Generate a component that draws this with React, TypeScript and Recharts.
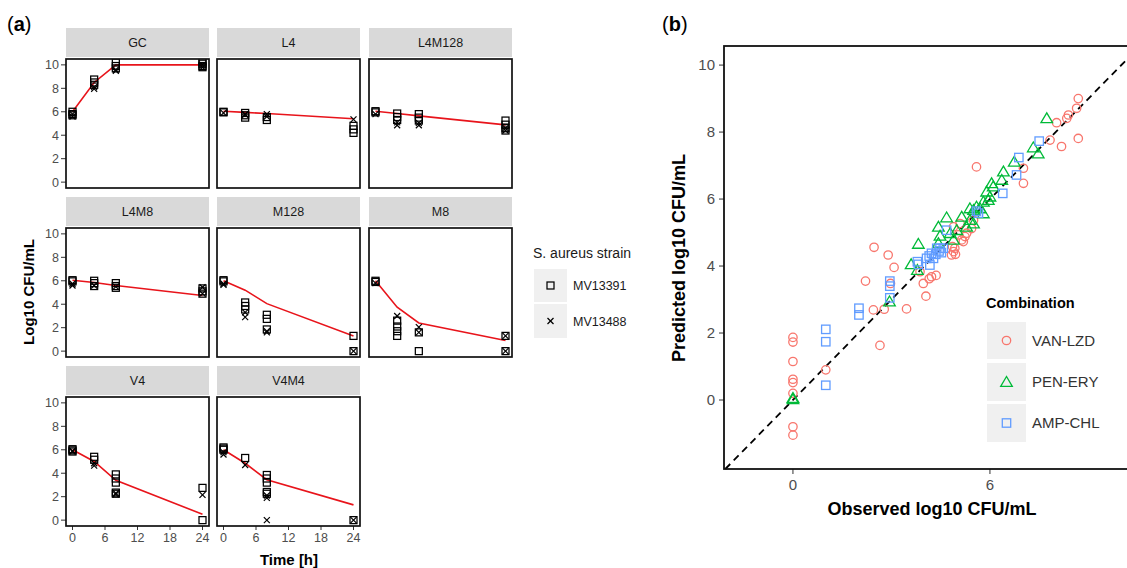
import React from 'react';
import { ComposedChart, Scatter, Line, XAxis, YAxis, ReferenceLine } from 'recharts';

const FONT = '"Liberation Sans", Arial, Helvetica, sans-serif';

// ---------- Panel (a) data ----------
const times = [0, 4, 8, 24];
const timeTicks = [0, 6, 12, 18, 24];
const logTicksA = [0, 2, 4, 6, 8, 10];
const facetNames = ['GC', 'L4', 'L4M128', 'L4M8', 'M128', 'M8', 'V4', 'V4M4'];

const gcSquares = [[0, 6.0], [0, 5.8], [0, 5.7], [4, 8.75], [4, 8.5], [4, 8.3], [8, 10.2], [8, 9.9], [8, 9.7], [24, 10.3], [24, 10.1], [24, 9.9], [24, 9.8]];
const gcCrosses = [[0, 5.8], [0, 5.6], [4, 8.1], [4, 7.95], [8, 9.6], [8, 9.5], [24, 10.0], [24, 9.8]];
const gcModel = [6.0, 8.5, 10.0, 10.0];

const l4Squares = [[0, 6.0], [0, 5.95], [4, 5.9], [4, 5.7], [4, 5.5], [8, 5.55], [8, 5.3], [24, 4.8], [24, 4.5], [24, 4.2]];
const l4Crosses = [[0, 5.9], [4, 5.8], [4, 5.75], [8, 5.8], [8, 5.6], [24, 5.35]];
const l4Model = [6.05, 5.95, 5.85, 5.4];

const l4m128Squares = [[0, 6.05], [0, 5.95], [4, 5.85], [4, 5.55], [4, 5.3], [8, 5.8], [8, 5.5], [8, 5.25], [24, 5.25], [24, 4.9], [24, 4.6], [24, 4.4]];
const l4m128Crosses = [[0, 5.8], [4, 5.1], [4, 4.85], [8, 5.05], [8, 4.85], [24, 4.6], [24, 4.4]];
const l4m128Model = [6.05, 5.85, 5.65, 4.88];

const l4m8Squares = [[0, 6.05], [0, 5.95], [4, 6.0], [4, 5.8], [4, 5.55], [8, 5.8], [8, 5.55], [8, 5.4], [24, 5.35], [24, 5.1], [24, 4.9]];
const l4m8Crosses = [[0, 5.75], [0, 5.6], [4, 5.6], [8, 5.5], [24, 5.45], [24, 4.9]];
const l4m8Model = [6.05, 5.85, 5.6, 4.75];

const m128Squares = [[0, 6.05], [0, 5.95], [4, 4.15], [4, 3.85], [4, 3.55], [8, 3.1], [8, 2.75], [8, 1.85], [24, 1.3], [24, 0]];
const m128Crosses = [[0, 5.75], [0, 5.65], [4, 3.3], [4, 2.9], [8, 1.7], [8, 1.6], [24, 0]];
const m128Model = [6.0, 5.2, 4.05, 1.3];

const m8Squares = [[0, 6.0], [0, 5.9], [4, 2.6], [4, 2.1], [4, 1.7], [4, 1.3], [8, 1.6], [8, 0], [24, 1.3], [24, 0]];
const m8Crosses = [[0, 5.8], [4, 3.0], [8, 2.05], [8, 1.6], [24, 1.3], [24, 0]];
const m8Model = [6.0, 3.75, 2.4, 0.9];

const v4Squares = [[0, 6.05], [0, 5.95], [0, 5.85], [4, 5.4], [4, 5.15], [8, 3.9], [8, 3.55], [8, 3.2], [8, 2.35], [8, 2.25], [24, 2.75], [24, 0]];
const v4Crosses = [[0, 5.9], [0, 5.85], [4, 4.85], [4, 4.65], [8, 2.3], [8, 2.2], [24, 2.15]];
const v4Model = [6.0, 5.0, 3.4, 0.5];

const v4m4Squares = [[0, 6.2], [0, 6.1], [0, 6.0], [4, 5.3], [8, 3.85], [8, 3.55], [8, 3.2], [8, 2.4], [8, 2.25], [24, 0]];
const v4m4Crosses = [[0, 5.8], [0, 5.6], [4, 4.7], [8, 2.1], [8, 1.9], [8, 0], [24, 0]];
const v4m4Model = [6.0, 4.85, 3.45, 1.3];

const strainNames = ['MV13391', 'MV13488'];

// ---------- Panel (b) data ----------
const obsTicks = [0, 6];
const predTicks = [0, 2, 4, 6, 8, 10];
const comboNames = ['VAN-LZD', 'PEN-ERY', 'AMP-CHL'];

const vanLzd = [
  [0, 1.87], [0, 1.73], [0, 1.15], [0, 0.62], [0, 0.52], [0, 0.2], [0, -0.8], [0, -1.05],
  [1.0, 0.9],
  [2.21, 3.55], [2.45, 2.69], [2.78, 2.71], [3.46, 2.72], [2.65, 1.63], [2.47, 4.56], [2.9, 4.33], [3.08, 3.96], [2.97, 3.48],
  [3.97, 3.48], [4.05, 3.1], [3.87, 3.83], [4.22, 3.68], [4.36, 3.72], [4.15, 3.62],
  [4.83, 4.33], [4.89, 4.43], [4.86, 4.58], [5.19, 4.73], [5.24, 4.88], [5.44, 5.12], [4.89, 5.17], [5.09, 5.27], [5.5, 5.37],
  [5.29, 4.98], [5.04, 4.93], [5.14, 4.78], [4.93, 4.53], [4.95, 4.35],
  [5.59, 6.96], [7.02, 6.92], [7.02, 6.47],
  [7.83, 7.76], [8.03, 8.28], [8.18, 7.57], [8.39, 8.51], [8.34, 8.41], [8.64, 8.71], [8.69, 9.0], [8.69, 7.81],
];

const penEry = [
  [0, 0.02], [0, 0.06], [2.94, 2.94], [3.6, 4.05], [3.82, 4.66], [3.79, 3.88],
  [4.43, 4.68], [4.48, 4.9], [4.43, 5.17], [4.68, 5.45], [4.79, 4.98], [4.89, 4.78], [4.99, 5.07], [5.14, 5.47],
  [5.29, 5.17], [5.39, 5.37], [5.5, 5.27], [5.39, 5.72], [5.5, 5.67], [5.59, 5.77], [5.7, 5.72], [5.8, 5.57],
  [5.8, 5.92], [5.9, 6.22], [5.95, 5.97], [6.0, 6.07], [6.1, 6.37], [6.05, 6.47], [6.36, 6.57], [6.41, 6.82],
  [6.74, 7.11], [7.32, 7.54], [7.47, 7.36], [7.73, 8.41],
];

const ampChl = [
  [1.0, 2.11], [1.0, 1.74], [1.0, 0.44], [2.01, 2.74], [2.01, 2.54], [2.95, 3.55], [2.95, 3.4], [2.95, 3.05],
  [3.79, 4.13], [3.82, 4.05], [4.07, 4.23], [4.17, 4.03], [4.22, 4.38], [4.28, 4.23], [4.38, 4.53], [4.58, 4.53],
  [4.45, 4.45], [4.35, 4.35], [4.15, 4.3], [4.48, 4.53], [4.68, 5.07], [4.52, 4.4],
  [5.59, 5.64], [5.65, 5.58], [6.39, 6.17], [6.81, 6.72], [6.88, 7.24], [7.5, 7.73],
];

// ---------- helpers ----------
const toPts = (arr: number[][]) => arr.map(([t, v]) => ({ t, v }));
const toModel = (vals: number[]) => times.map((t, i) => ({ t, v: vals[i] }));
const toXY = (arr: number[][]) => arr.map(([x, y]) => ({ x, y }));

const facets = [
  { sq: gcSquares, cr: gcCrosses, model: gcModel },
  { sq: l4Squares, cr: l4Crosses, model: l4Model },
  { sq: l4m128Squares, cr: l4m128Crosses, model: l4m128Model },
  { sq: l4m8Squares, cr: l4m8Crosses, model: l4m8Model },
  { sq: m128Squares, cr: m128Crosses, model: m128Model },
  { sq: m8Squares, cr: m8Crosses, model: m8Model },
  { sq: v4Squares, cr: v4Crosses, model: v4Model },
  { sq: v4m4Squares, cr: v4m4Crosses, model: v4m4Model },
].map((f, i) => ({
  name: facetNames[i],
  col: i % 3,
  row: Math.floor(i / 3),
  sq: toPts(f.sq),
  cr: toPts(f.cr),
  model: toModel(f.model),
}));

// layout
const COL_LEFT = [66, 217, 369];
const ROW_TOP = [59, 228, 397];
const PW = 143;
const PH = 129;
const YW = 34;
const MT = 4;
const MR = 4;
const XH = 26;

const SquareShape = (p: any) => (
  <rect x={p.cx - 3.5} y={p.cy - 3.5} width={7} height={7} fill="none" stroke="#000" strokeWidth={1.25} />
);
const CrossShape = (p: any) => (
  <g stroke="#000" strokeWidth={1.2}>
    <line x1={p.cx - 3} y1={p.cy - 3} x2={p.cx + 3} y2={p.cy + 3} />
    <line x1={p.cx - 3} y1={p.cy + 3} x2={p.cx + 3} y2={p.cy - 3} />
  </g>
);

const RED = '#F8766D';
const GREEN = '#00BA38';
const BLUE = '#619CFF';

const CircleB = (p: any) => <circle cx={p.cx} cy={p.cy} r={4.2} fill="none" stroke={RED} strokeWidth={1.3} />;
const TriB = (p: any) => (
  <polygon
    points={`${p.cx},${p.cy - 5.5} ${p.cx - 5.8},${p.cy + 4.3} ${p.cx + 5.8},${p.cy + 4.3}`}
    fill="none"
    stroke={GREEN}
    strokeWidth={1.3}
  />
);
const SquareB = (p: any) => (
  <rect x={p.cx - 4.2} y={p.cy - 4.2} width={8.4} height={8.4} fill="none" stroke={BLUE} strokeWidth={1.3} />
);

function Facet({ f }: { f: any }) {
  const showY = f.col === 0;
  const showX = f.row === 2;
  return (
    <div style={{ position: 'absolute', left: COL_LEFT[f.col] - YW, top: ROW_TOP[f.row] - MT }}>
      <ComposedChart
        width={YW + PW + MR}
        height={MT + PH + XH}
        margin={{ top: MT, right: MR, bottom: 0, left: 0 }}
      >
        <XAxis
          dataKey="t"
          type="number"
          domain={[-1.2, 25.2]}
          ticks={timeTicks}
          allowDataOverflow
          height={XH}
          axisLine={false}
          tick={showX ? { fontSize: 12.5, fill: '#4d4d4d' } : false}
          tickLine={showX ? { stroke: '#333' } : false}
          tickSize={4}
          tickMargin={3}
        />
        <YAxis
          dataKey="v"
          type="number"
          domain={[-0.5, 10.5]}
          ticks={logTicksA}
          allowDataOverflow
          width={YW}
          axisLine={false}
          tick={showY ? { fontSize: 12.5, fill: '#4d4d4d' } : false}
          tickLine={showY ? { stroke: '#333' } : false}
          tickSize={5}
          tickMargin={2}
        />
        <Scatter data={f.sq} shape={SquareShape} isAnimationActive={false} />
        <Scatter data={f.cr} shape={CrossShape} isAnimationActive={false} />
        <Line
          data={f.model}
          dataKey="v"
          type="linear"
          stroke="#E8141B"
          strokeWidth={1.6}
          dot={false}
          activeDot={false}
          isAnimationActive={false}
        />
      </ComposedChart>
    </div>
  );
}

// panel b layout
const B_LEFT = 724;
const B_TOP = 46;
const B_W = 416;
const B_H = 423;
const B_YW = 44;
const B_MT = 6;
const B_XH = 34;

function PanelB() {
  return (
    <div style={{ position: 'absolute', left: B_LEFT - B_YW, top: B_TOP - B_MT }}>
      <ComposedChart
        width={B_YW + B_W + 6}
        height={B_MT + B_H + B_XH}
        margin={{ top: B_MT, right: 6, bottom: 0, left: 0 }}
      >
        <XAxis
          dataKey="x"
          type="number"
          domain={[-2.1, 10.57]}
          ticks={obsTicks}
          allowDataOverflow
          height={B_XH}
          axisLine={false}
          tick={{ fontSize: 15, fill: '#4d4d4d' }}
          tickLine={{ stroke: '#333' }}
          tickSize={5}
          tickMargin={5}
        />
        <YAxis
          dataKey="y"
          type="number"
          domain={[-2.06, 10.57]}
          ticks={predTicks}
          allowDataOverflow
          width={B_YW}
          axisLine={false}
          tick={{ fontSize: 15, fill: '#4d4d4d' }}
          tickLine={{ stroke: '#333' }}
          tickSize={5}
          tickMargin={4}
        />
        <Scatter data={toXY(vanLzd)} shape={CircleB} isAnimationActive={false} />
        <Scatter data={toXY(penEry)} shape={TriB} isAnimationActive={false} />
        <Scatter data={toXY(ampChl)} shape={SquareB} isAnimationActive={false} />
        <ReferenceLine
          segment={[{ x: -2.06, y: -2.06 }, { x: 10.57, y: 10.57 }]}
          stroke="#000"
          strokeWidth={1.8}
          strokeDasharray="7 5"
          ifOverflow="visible"
        />
      </ComposedChart>
    </div>
  );
}

function Overlay() {
  const keyShapesB = [
    <circle key="c" cx={1006.5} cy={340.5} r={4.2} fill="none" stroke={RED} strokeWidth={1.3} />,
    <polygon key="t" points={`1006.5,376.5 1000.7,386.3 1012.3,386.3`} fill="none" stroke={GREEN} strokeWidth={1.3} />,
    <rect key="s" x={1002.3} y={418.8} width={8.4} height={8.4} fill="none" stroke={BLUE} strokeWidth={1.3} />,
  ];
  return (
    <svg width={1127} height={568} style={{ position: 'absolute', left: 0, top: 0 }}>
      {/* panel labels */}
      <text x={7} y={31} fontSize={20} fill="#000">
        (<tspan fontWeight="bold">a</tspan>)
      </text>
      <text x={662} y={31} fontSize={20} fill="#000">
        (<tspan fontWeight="bold">b</tspan>)
      </text>

      {/* facet strips & borders */}
      {facets.map((f) => (
        <g key={f.name}>
          <rect x={COL_LEFT[f.col]} y={ROW_TOP[f.row] - 31} width={PW} height={29} fill="#D9D9D9" />
          <text
            x={COL_LEFT[f.col] + PW / 2}
            y={ROW_TOP[f.row] - 12}
            textAnchor="middle"
            fontSize={12.5}
            fill="#1a1a1a"
          >
            {f.name}
          </text>
          <rect
            x={COL_LEFT[f.col]}
            y={ROW_TOP[f.row]}
            width={PW}
            height={PH}
            fill="none"
            stroke="#111"
            strokeWidth={1.7}
          />
        </g>
      ))}

      {/* axis titles (a) */}
      <text
        x={0}
        y={0}
        transform="translate(34,292) rotate(-90)"
        textAnchor="middle"
        fontSize={15}
        fontWeight="bold"
        fill="#000"
      >
        Log10 CFU/mL
      </text>
      <text x={289} y={565} textAnchor="middle" fontSize={15} fontWeight="bold" fill="#000">
        Time [h]
      </text>

      {/* legend (a) */}
      <text x={533} y={258} fontSize={14} fill="#1a1a1a">
        S. aureus strain
      </text>
      <rect x={534} y={269} width={33} height={33} fill="#F0F0F0" />
      <rect x={534} y={304} width={33} height={34} fill="#F0F0F0" />
      <rect x={547} y={282} width={7} height={7} fill="none" stroke="#000" strokeWidth={1.25} />
      <g stroke="#000" strokeWidth={1.2}>
        <line x1={547.5} y1={318} x2={553.5} y2={324} />
        <line x1={547.5} y1={324} x2={553.5} y2={318} />
      </g>
      <text x={573} y={290} fontSize={12.5} fill="#1a1a1a">
        {strainNames[0]}
      </text>
      <text x={573} y={326} fontSize={12.5} fill="#1a1a1a">
        {strainNames[1]}
      </text>

      {/* panel b border */}
      <rect x={B_LEFT} y={B_TOP} width={B_W} height={B_H} fill="none" stroke="#111" strokeWidth={1.8} />

      {/* axis titles (b) */}
      <text x={932} y={515} textAnchor="middle" fontSize={18} fontWeight="bold" fill="#000">
        Observed log10 CFU/mL
      </text>
      <text
        x={0}
        y={0}
        transform="translate(685,258) rotate(-90)"
        textAnchor="middle"
        fontSize={18}
        fontWeight="bold"
        fill="#000"
      >
        Predicted log10 CFU/mL
      </text>

      {/* legend (b) */}
      <text x={986} y={308} fontSize={14.5} fontWeight="bold" fill="#000">
        Combination
      </text>
      <rect x={987} y={322} width={39} height={37} fill="#F0F0F0" />
      <rect x={987} y={363} width={39} height={38} fill="#F0F0F0" />
      <rect x={987} y={404} width={39} height={38} fill="#F0F0F0" />
      {keyShapesB}
      <text x={1032} y={346} fontSize={15} fill="#333">
        {comboNames[0]}
      </text>
      <text x={1032} y={387} fontSize={15} fill="#333">
        {comboNames[1]}
      </text>
      <text x={1032} y={428} fontSize={15} fill="#333">
        {comboNames[2]}
      </text>
    </svg>
  );
}

export default function App() {
  return (
    <div
      style={{
        position: 'absolute',
        left: 0,
        top: 0,
        width: 1127,
        height: 568,
        overflow: 'hidden',
        background: '#fff',
        fontFamily: FONT,
      }}
    >
      {facets.map((f) => (
        <Facet key={f.name} f={f} />
      ))}
      <PanelB />
      <Overlay />
    </div>
  );
}
